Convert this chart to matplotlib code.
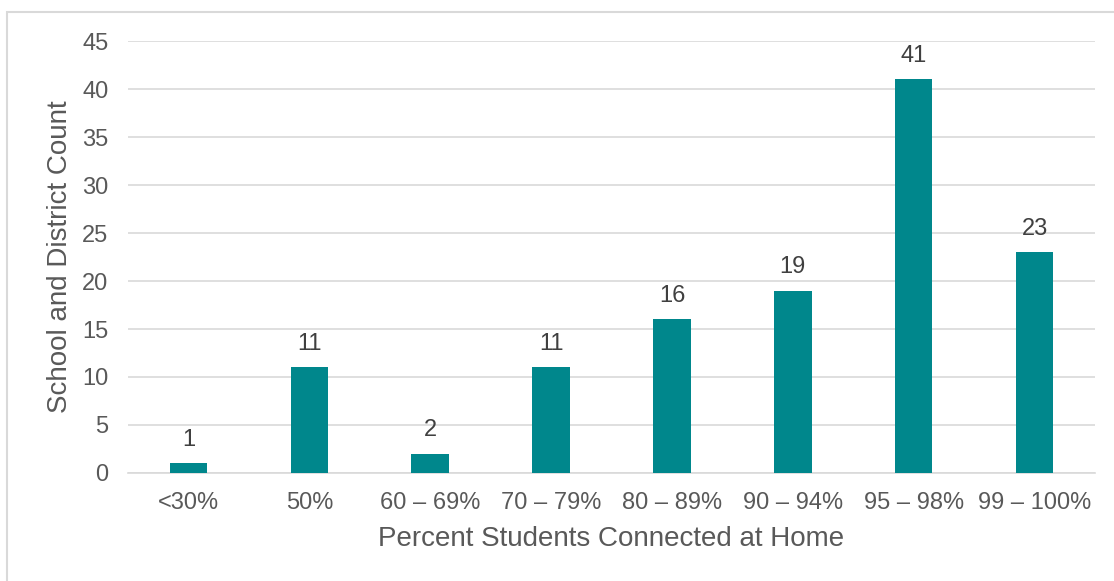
import matplotlib

matplotlib.use("Agg")
import matplotlib.pyplot as plt
from matplotlib.patches import Rectangle

categories = ["<30%", "50%", "60 – 69%", "70 – 79%", "80 – 89%",
              "90 – 94%", "95 – 98%", "99 – 100%"]
counts = [1, 11, 2, 11, 16, 19, 41, 23]
yticks = [0, 5, 10, 15, 20, 25, 30, 35, 40, 45]

TEAL = "#00878C"
TEXT = "#595959"
GRID = "#D9D9D9"

plt.rcParams["font.family"] = ["Liberation Sans", "DejaVu Sans"]

fig = plt.figure(figsize=(11.14, 5.81), dpi=100)
ax = fig.add_axes([0.1149, 0.1859, 0.8681, 0.7435])

# light frame round the chart area
fig.patches.append(Rectangle((7 / 1114, -0.1), 1.2, (581 - 12) / 581 + 0.1,
                             transform=fig.transFigure, fill=False,
                             edgecolor="#D9D9D9", linewidth=1.5))

x = range(len(categories))
ax.bar(x, counts, width=0.31, color=TEAL, zorder=3)
for xi, v in zip(x, counts):
    ax.text(xi, v + 1.3, str(v), ha="center", va="bottom",
            fontsize=17, color="#404040")

ax.set_xlim(-0.5, len(categories) - 0.5)
ax.set_ylim(0, 45)
ax.set_yticks(yticks)
ax.set_xticks(list(x))
ax.set_xticklabels(categories)
ax.grid(axis="y", color=GRID, linewidth=1.2, zorder=0)
for s in ["top", "right", "left"]:
    ax.spines[s].set_visible(False)
ax.spines["bottom"].set_color(GRID)
ax.spines["bottom"].set_linewidth(1.2)
ax.tick_params(axis="both", length=0, labelsize=17, colors=TEXT)
ax.tick_params(axis="y", pad=14)
ax.tick_params(axis="x", pad=14)

ax.set_xlabel("Percent Students Connected at Home", fontsize=20,
              color=TEXT, labelpad=8)
ax.set_ylabel("School and District Count", fontsize=20, color=TEXT)
ax.yaxis.set_label_coords(-0.057, 0.5)

fig.savefig("out.png", dpi=100)
